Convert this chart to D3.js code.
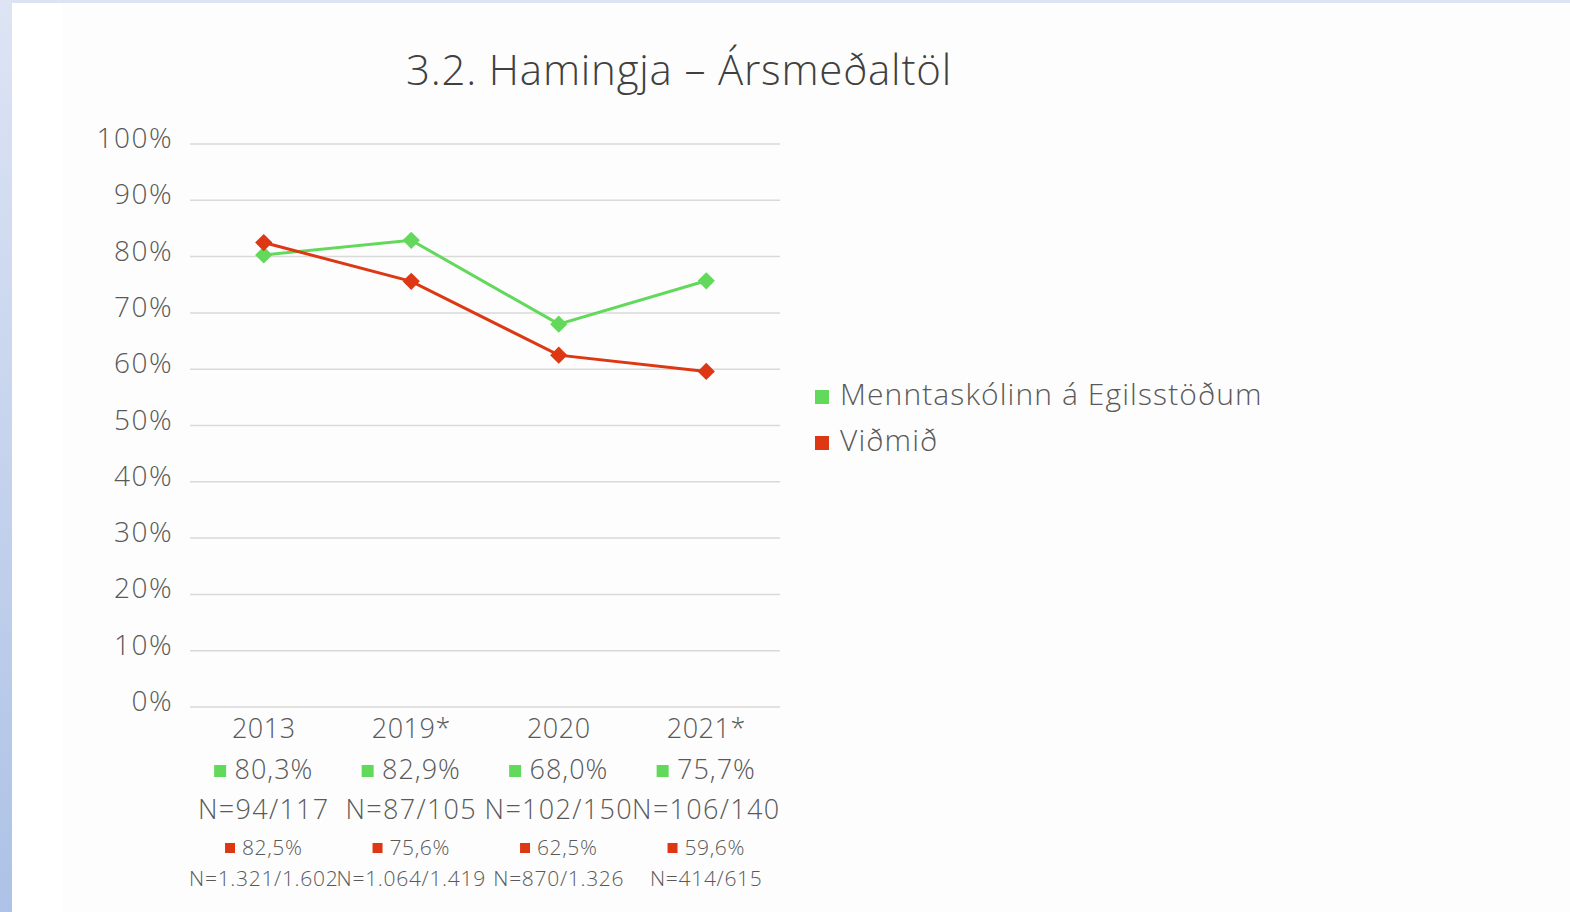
<!DOCTYPE html>
<html>
<head>
<meta charset="utf-8">
<script src="https://cdn.jsdelivr.net/npm/d3@7"></script>
<style>
  body { margin: 0; overflow: hidden; background: #fff; }
  text { font-family: "Open Sans", Lato, sans-serif; font-weight: 300; fill: #595959; }
</style>
</head>
<body>
<svg id="chart" width="1570" height="912"></svg>
<script>
// chart data
var years = ['2013', '2019*', '2020', '2021*'];
var schoolValues = [80.3, 82.9, 68.0, 75.7];
var normValues = [82.5, 75.6, 62.5, 59.6];
var schoolN = ['N=94/117', 'N=87/105', 'N=102/150', 'N=106/140'];
var normN = ['N=1.321/1.602', 'N=1.064/1.419', 'N=870/1.326', 'N=414/615'];
var yTicks = [0, 10, 20, 30, 40, 50, 60, 70, 80, 90, 100];
var seriesNames = ['Menntaskólinn á Egilsstöðum', 'Viðmið'];

var green = '#62d95b';
var red = '#dd3813';

var svg = d3.select('#chart');

// slide background bits
var grad = svg.append('defs').append('linearGradient')
    .attr('id', 'side').attr('x1', 0).attr('y1', 0).attr('x2', 0).attr('y2', 1);
grad.append('stop').attr('offset', '0%').attr('stop-color', '#dde4f4');
grad.append('stop').attr('offset', '100%').attr('stop-color', '#adc2e6');

svg.append('rect').attr('x', 0).attr('y', 0).attr('width', 1570).attr('height', 912).attr('fill', '#fdfdfd');
svg.append('rect').attr('x', 12).attr('y', 0).attr('width', 50).attr('height', 912).attr('fill', '#ffffff');
svg.append('rect').attr('x', 0).attr('y', 0).attr('width', 1570).attr('height', 3).attr('fill', '#dce3f3');
svg.append('rect').attr('x', 0).attr('y', 0).attr('width', 12).attr('height', 912).attr('fill', 'url(#side)');

// scales
var xScale = d3.scalePoint().domain(years).range([190, 780]).padding(0.5);
var yScale = d3.scaleLinear().domain([0, 100]).range([707, 144]);

// title
svg.append('text')
    .attr('x', 679).attr('y', 85)
    .attr('text-anchor', 'middle')
    .style('font-size', '42px')
    .style('letter-spacing', '0.8px')
    .style('fill', '#404040')
    .text('3.2. Hamingja – Ársmeðaltöl');

// gridlines
svg.append('g').selectAll('line')
    .data(yTicks)
    .enter().append('line')
    .attr('x1', 190).attr('x2', 780)
    .attr('y1', function(d) { return yScale(d); })
    .attr('y2', function(d) { return yScale(d); })
    .attr('stroke', '#d9d9d9')
    .attr('stroke-width', 1.5);

// y axis labels
svg.append('g').selectAll('text')
    .data(yTicks)
    .enter().append('text')
    .attr('x', 173)
    .attr('y', function(d) { return yScale(d) + 4; })
    .attr('text-anchor', 'end')
    .style('font-size', '28px')
    .style('letter-spacing', '1.5px')
    .text(function(d) { return d + '%'; });

// lines + diamond markers
function drawSeries(values, color) {
    var line = d3.line()
        .x(function(d, i) { return xScale(years[i]); })
        .y(function(d) { return yScale(d); });
    svg.append('path')
        .datum(values)
        .attr('d', line)
        .attr('fill', 'none')
        .attr('stroke', color)
        .attr('stroke-width', 3);
    svg.append('g').selectAll('path')
        .data(values)
        .enter().append('path')
        .attr('d', d3.symbol().type(d3.symbolDiamond2).size(190))
        .attr('transform', function(d, i) {
            return 'translate(' + xScale(years[i]) + ',' + yScale(d) + ')';
        })
        .attr('fill', color);
}
drawSeries(schoolValues, green);
drawSeries(normValues, red);

// category labels (data table under the axis)
function fmt(v) { return v.toFixed(1).replace('.', ',') + '%'; }

function keyedLabel(x, y, label, color, size, sq, ls) {
    var g = svg.append('g');
    var t = g.append('text')
        .attr('y', y)
        .style('font-size', size + 'px')
        .style('letter-spacing', ls + 'px')
        .text(label);
    var w = t.node().getComputedTextLength();
    var gap = sq * 0.7;
    var total = sq + gap + w;
    var left = x - total / 2;
    g.append('rect')
        .attr('x', left).attr('y', y - sq - 2)
        .attr('width', sq).attr('height', sq)
        .attr('fill', color);
    t.attr('x', left + sq + gap);
}

years.forEach(function(yr, i) {
    var x = xScale(yr);
    svg.append('text').attr('x', x).attr('y', 738)
        .attr('text-anchor', 'middle').style('font-size', '27px')
        .style('letter-spacing', '0.5px').text(yr);
    keyedLabel(x, 779, fmt(schoolValues[i]), green, 27, 12, 1);
    svg.append('text').attr('x', x).attr('y', 819)
        .attr('text-anchor', 'middle').style('font-size', '27px')
        .style('letter-spacing', '1.3px').text(schoolN[i]);
    keyedLabel(x, 855, fmt(normValues[i]), red, 21, 10, 0.6);
    svg.append('text').attr('x', x).attr('y', 886)
        .attr('text-anchor', 'middle').style('font-size', '21px')
        .style('letter-spacing', '0.7px').text(normN[i]);
});

// legend
var legend = svg.append('g').selectAll('g')
    .data(seriesNames)
    .enter().append('g')
    .attr('transform', function(d, i) { return 'translate(815,' + (390 + i * 46) + ')'; });
legend.append('rect')
    .attr('width', 14).attr('height', 14)
    .attr('fill', function(d, i) { return i === 0 ? green : red; });
legend.append('text')
    .attr('x', 25).attr('y', 15)
    .style('font-size', '30px')
    .style('letter-spacing', '1.1px')
    .text(function(d) { return d; });
</script>
</body>
</html>
